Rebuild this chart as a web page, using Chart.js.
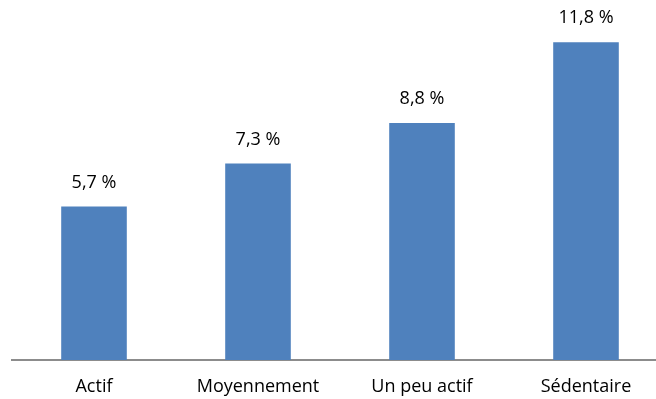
<!DOCTYPE html>
<html lang="fr">

<head>
  <meta charset="UTF-8">
  <title>Niveau d'activité</title>
  <style>
    html, body { margin: 0; padding: 0; background: #fff; overflow: hidden; }
    #wrap { width: 670px; height: 399px; }
  </style>
</head>

<body>
  <div id="wrap">
    <canvas id="graphe"></canvas>
  </div>
  <script src="https://cdn.jsdelivr.net/npm/chart.js"></script>
  <script>
    // niveaux d'activité et pourcentages
    var categories = ['Actif', 'Moyennement', 'Un peu actif', 'Sédentaire'];
    var valeurs = [5.7, 7.3, 8.8, 11.8];

    var police = "'Open Sans', 'Noto Sans', sans-serif";

    // affiche la valeur au-dessus de chaque barre, virgule décimale
    var etiquettes = {
      id: 'etiquettes',
      afterDatasetsDraw: function (chart) {
        var ctx = chart.ctx;
        var meta = chart.getDatasetMeta(0);
        ctx.save();
        ctx.font = '18px ' + police;
        ctx.fillStyle = '#000';
        ctx.textAlign = 'center';
        ctx.textBaseline = 'middle';
        meta.data.forEach(function (barre, i) {
          var texte = valeurs[i].toFixed(1).replace('.', ',') + ' %';
          ctx.fillText(texte, barre.x, barre.y - 24);
        });
        ctx.restore();
      }
    };

    new Chart(document.getElementById('graphe'), {
      type: 'bar',
      data: {
        labels: categories,
        datasets: [{
          data: valeurs,
          backgroundColor: '#4F81BD',
          barPercentage: 0.8,
          categoryPercentage: 0.5
        }]
      },
      options: {
        responsive: true,
        maintainAspectRatio: false,
        animation: false,
        layout: { padding: { top: 10, left: 12, right: 2, bottom: 0 } },
        plugins: {
          legend: { display: false },
          tooltip: { enabled: false }
        },
        scales: {
          x: {
            grid: { display: false },
            border: { display: true, color: '#8C8C8C', width: 2 },
            ticks: {
              color: '#000',
              padding: 8,
              font: { family: police, size: 18 }
            },
            afterFit: function (axe) { axe.height = 39; }
          },
          y: {
            display: false,
            min: 0,
            max: 13
          }
        }
      },
      plugins: [etiquettes]
    });
  </script>
</body>

</html>
